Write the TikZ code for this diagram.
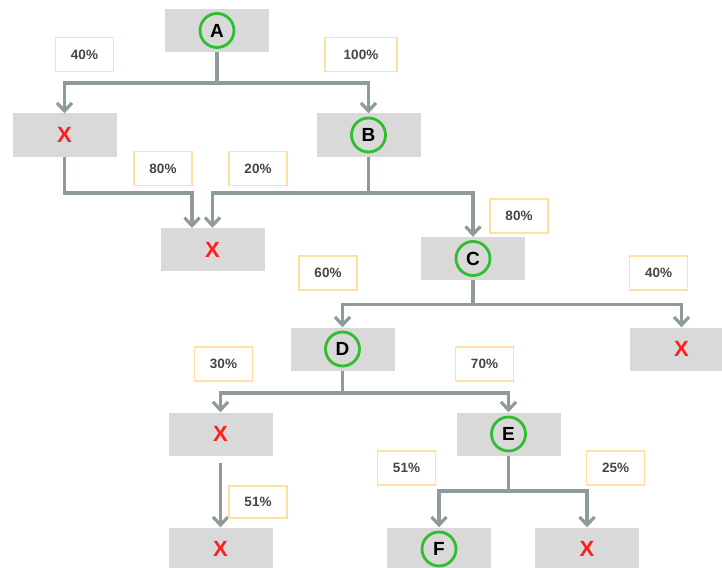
\documentclass[tikz,border=0pt]{standalone}
\usepackage{fontspec}
\setmainfont{Liberation Sans}
\usetikzlibrary{arrows.meta}
\definecolor{boxgray}{HTML}{D9D9D9}
\definecolor{conngray}{HTML}{8F9B9A}
\definecolor{lblborder}{HTML}{FFE0A0}
\definecolor{circgreen}{HTML}{2EBE2E}
\definecolor{xred}{HTML}{FF1E1E}
\definecolor{lbltext}{HTML}{454545}
\begin{document}
\begin{tikzpicture}[x=1pt,y=-1pt,
 graybox/.style={fill=boxgray, minimum width=104pt, minimum height=43pt, inner sep=0pt},
 letter/.style={circle, draw=circgreen, line width=2.8pt, minimum size=34pt, inner sep=0pt, font=\fontsize{19}{19}\selectfont\bfseries},
 xmark/.style={text=xred, font=\fontsize{22}{22}\selectfont\bfseries},
 lbl/.style={draw=lblborder, line width=1.3pt, fill=white, minimum width=58pt, minimum height=34pt, inner sep=0pt, text=lbltext, font=\fontsize{13.5}{14}\selectfont\bfseries},
 conn/.style={draw=conngray, line width=3.2pt, -{Straight Barb[length=8pt,width=15pt]}},
 wire/.style={draw=conngray, line width=3.2pt}
]
\useasboundingbox (0,0) rectangle (722,567);
\clip (0,0) rectangle (722,567);
\fill[white] (0,0) rectangle (722,567);

% gray boxes
\node[graybox] (A) at (217,30.5) {};
\node[letter] (Ac) at (A) {A};
\node[graybox, xmark] (X1) at (64.5,135) {X};
\node[graybox] (B) at (368.5,135) {};
\node[letter] (Bc) at (B) {B};
\node[graybox, xmark] (X2) at (212.5,249.5) {X};
\node[graybox] (C) at (473,258.5) {};
\node[letter] (Cc) at (C) {C};
\node[graybox] (D) at (342.5,349) {};
\node[letter] (Dc) at (D) {D};
\node[graybox, xmark] (X3) at (681.5,349) {X};
\node[graybox, xmark] (X4) at (220.5,434) {X};
\node[graybox] (E) at (508.5,434) {};
\node[letter] (Ec) at (E) {E};
\node[graybox, xmark] (X5) at (220.5,549) {X};
\node[graybox] (F) at (439,549) {};
\node[letter] (Fc) at (F) {F};
\node[graybox, xmark] (X6) at (587,549) {X};

% junction coordinates
\coordinate (jA) at (217,83);
\coordinate (jX1) at (64.5,193);
\coordinate (jB) at (368.5,193);
\coordinate (tX2a) at (192,228);
\coordinate (jC) at (473,304.5);
\coordinate (jD) at (342.5,393);
\coordinate (jE) at (508.5,491);
\coordinate (sX4) at (220.5,463);

% connectors
\draw[wire] (A.south) -- (jA);
\draw[conn] (jA) -| (X1.north);
\draw[conn] (jA) -| (B.north);
\draw[conn] (X1.south) -- (jX1) -| (tX2a);
\draw[wire] (B.south) -- (jB);
\draw[conn] (jB) -| (X2.north);
\draw[conn] (jB) -| (C.north);
\draw[wire] (C.south) -- (jC);
\draw[conn] (jC) -| (D.north);
\draw[conn] (jC) -| (X3.north);
\draw[wire] (D.south) -- (jD);
\draw[conn] (jD) -| (X4.north);
\draw[conn] (jD) -| (E.north);
\draw[conn] (sX4) -- (X5.north);
\draw[wire] (E.south) -- (jE);
\draw[conn] (jE) -| (F.north);
\draw[conn] (jE) -| (X6.north);

% labels
\node[lbl] (l1) at (84.5,54.5) {40\%};
\node[lbl, minimum width=72pt] (l2) at (361,54.5) {100\%};
\node[lbl] (l3) at (163,168.5) {80\%};
\node[lbl] (l4) at (258,168.5) {20\%};
\node[lbl] (l5) at (519,216) {80\%};
\node[lbl] (l6) at (328,273) {60\%};
\node[lbl] (l7) at (658.5,273) {40\%};
\node[lbl] (l8) at (223.5,364) {30\%};
\node[lbl] (l9) at (484.5,364) {70\%};
\node[lbl, minimum height=32pt] (l10) at (258,502) {51\%};
\node[lbl] (l11) at (406.5,468) {51\%};
\node[lbl] (l12) at (615.5,468) {25\%};
\end{tikzpicture}
\end{document}
